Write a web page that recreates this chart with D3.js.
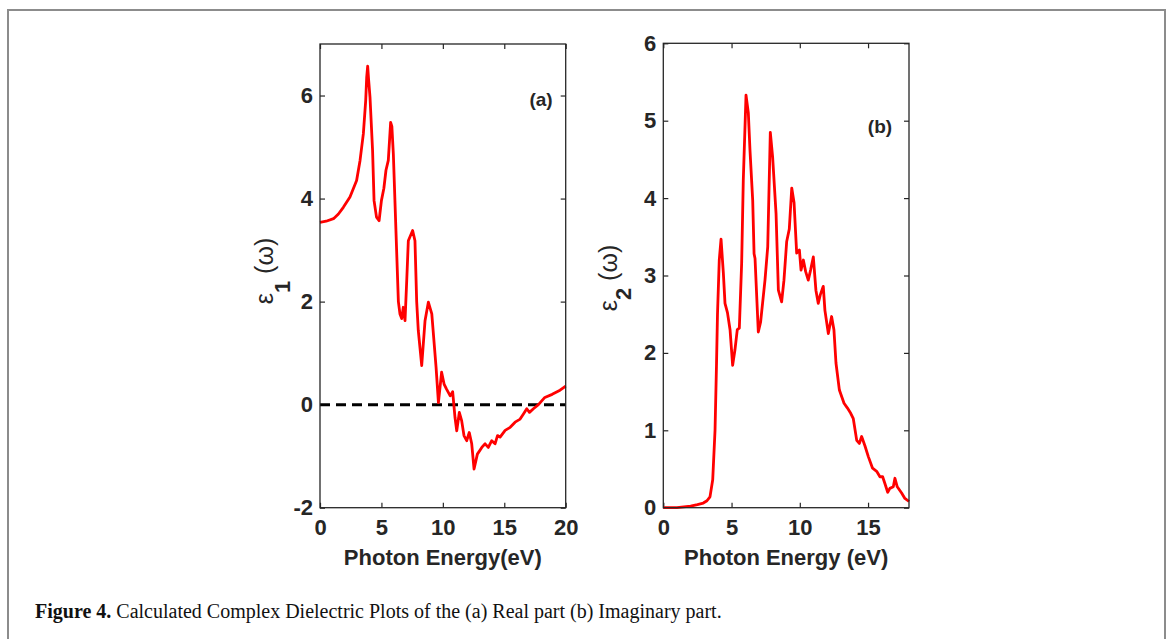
<!DOCTYPE html>
<html>
<head>
<meta charset="utf-8">
<script src="https://cdn.jsdelivr.net/npm/d3@7"></script>
<style>
  body { margin: 0; background: #ffffff; }
  svg { display: block; }
  .tick-label { font-family: "Liberation Sans", Arial, sans-serif; font-weight: bold; font-size: 22px; fill: #262626; }
</style>
</head>
<body>
<svg id="fig" width="1171" height="639"></svg>
<script>
'use strict';

//------------------------------------------------------------
// data
//------------------------------------------------------------
// (a) real part eps1(w)
const energyReal = [0, 0.5, 1.1, 1.5, 1.9, 2.44, 2.98, 3.26, 3.53, 3.72, 3.8, 3.88, 3.96, 4.07, 4.28, 4.4, 4.6, 4.81, 5.0, 5.2, 5.37, 5.56, 5.75, 5.85, 5.97, 6.19, 6.38,
                    6.51, 6.65, 6.78, 6.92, 7.06, 7.19, 7.54, 7.73, 7.87, 8.0, 8.28, 8.55, 8.82, 9.1, 9.45, 9.64, 9.9, 10.1, 10.3, 10.6, 10.8,
                    10.99, 11.13, 11.34, 11.53, 11.72, 11.94, 12.15, 12.35, 12.54, 12.81, 13.17, 13.44, 13.7, 13.98, 14.25, 14.45, 14.66,
                    15.07, 15.48, 15.88, 16.29, 16.56, 16.83, 17.05, 17.37, 17.78, 18.3, 18.9, 19.54, 20.0];
const epsReal = [3.54, 3.56, 3.61, 3.7, 3.83, 4.03, 4.35, 4.74, 5.26, 5.9, 6.35, 6.57, 6.3, 5.97, 4.93, 3.96, 3.64, 3.57, 3.96, 4.2, 4.55, 4.74, 5.48, 5.4, 4.87, 3.32, 2.0,
                 1.76, 1.67, 1.89, 1.63, 2.41, 3.18, 3.38, 3.18, 2.0, 1.44, 0.76, 1.63, 1.99, 1.76, 0.72, 0.04, 0.63, 0.4, 0.3, 0.17, 0.25,
                 -0.25, -0.51, -0.15, -0.31, -0.6, -0.7, -0.54, -0.76, -1.25, -0.96, -0.83, -0.76, -0.83, -0.7, -0.76, -0.6, -0.63,
                 -0.5, -0.44, -0.34, -0.28, -0.18, -0.08, -0.15, -0.08, 0.0, 0.14, 0.2, 0.28, 0.36];

// (b) imaginary part eps2(w)
const energyImag = [0, 1.0, 2.0, 2.5, 2.93, 3.2, 3.42, 3.62, 3.79, 3.9, 3.97, 4.1, 4.23, 4.4, 4.52, 4.7, 4.89, 5.08, 5.25, 5.42, 5.57, 5.74, 5.86,
                    6.06, 6.23, 6.35, 6.55, 6.65, 6.72, 6.96, 7.13, 7.45, 7.65, 7.84, 8.01, 8.26, 8.43, 8.67, 8.84, 9.04, 9.23, 9.41, 9.58, 9.77,
                    9.97, 10.09, 10.26, 10.43, 10.62, 10.79, 10.99, 11.18, 11.35, 11.5, 11.72, 11.84, 12.09, 12.33, 12.5, 12.65, 12.9, 13.24,
                    13.48, 13.73, 13.92, 14.17, 14.36, 14.53, 14.77, 15.02, 15.33, 15.63, 15.87, 16.07, 16.24, 16.44, 16.6, 16.85, 16.97,
                    17.14, 17.46, 17.7, 18.0];
const epsImag = [0, 0, 0.02, 0.04, 0.06, 0.09, 0.14, 0.36, 1.0, 1.87, 2.5, 3.2, 3.47, 3.03, 2.64, 2.52, 2.3, 1.84, 2.04, 2.3, 2.32, 3.16, 4.23,
                 5.33, 5.1, 4.62, 3.97, 3.28, 3.22, 2.27, 2.4, 2.94, 3.37, 4.85, 4.53, 3.8, 2.81, 2.66, 2.94, 3.44, 3.6, 4.13, 3.94, 3.29,
                 3.33, 3.07, 3.2, 3.05, 2.94, 3.07, 3.24, 2.81, 2.64, 2.75, 2.86, 2.55, 2.25, 2.47, 2.3, 1.87, 1.52, 1.35,
                 1.29, 1.22, 1.15, 0.87, 0.83, 0.92, 0.8, 0.66, 0.51, 0.47, 0.4, 0.4, 0.31, 0.2, 0.25, 0.27, 0.38,
                 0.27, 0.19, 0.12, 0.08];

// tick values
const realTicksX = [0, 5, 10, 15, 20];
const realTicksY = [-2, 0, 2, 4, 6];
const imagTicksX = [0, 5, 10, 15];
const imagTicksY = [0, 1, 2, 3, 4, 5, 6];

// texts
const xLabelReal = "Photon Energy(eV)";
const xLabelImag = "Photon Energy (eV)";
const captionBold = "Figure 4.";
const captionText = " Calculated Complex Dielectric Plots of the (a) Real part (b) Imaginary part.";

//------------------------------------------------------------
// draw one panel
//------------------------------------------------------------
function drawPanel(svg, opt) {
    const x = d3.scaleLinear().domain(opt.xDomain).range([opt.left, opt.right]);
    const y = d3.scaleLinear().domain(opt.yDomain).range([opt.bottom, opt.top]);
    const g = svg.append("g");
    const fmt = (d) => String(d); // plain hyphen minus like the original

    // inward ticks on all four sides, labels only left / bottom
    const axes = [
        [d3.axisBottom(x).tickValues(opt.xTicks).tickFormat(fmt).tickPadding(12), `translate(0,${opt.bottom})`, true],
        [d3.axisTop(x).tickValues(opt.xTicks).tickFormat(""), `translate(0,${opt.top})`, false],
        [d3.axisLeft(y).tickValues(opt.yTicks).tickFormat(fmt).tickPadding(7), `translate(${opt.left},0)`, true],
        [d3.axisRight(y).tickValues(opt.yTicks).tickFormat(""), `translate(${opt.right},0)`, false]
    ];
    axes.forEach(([ax, tr, showLabels]) => {
        const a = g.append("g").attr("transform", tr)
            .call(ax.tickSizeInner(-5).tickSizeOuter(0));
        a.select(".domain").remove();
        a.selectAll("line").attr("stroke", "#262626").attr("stroke-width", 1.2);
        a.selectAll("text").attr("class", "tick-label").attr("fill", null);
        if (!showLabels) a.selectAll("text").remove();
    });

    // zero line
    if (opt.zeroLine) {
        g.append("line")
            .attr("x1", x(opt.xDomain[0])).attr("x2", x(opt.xDomain[1]))
            .attr("y1", y(0)).attr("y2", y(0))
            .attr("stroke", "#000000").attr("stroke-width", 3)
            .attr("stroke-dasharray", "10,6");
    }

    // data curve
    const pts = opt.xs.map((d, i) => [d, opt.ys[i]]);
    g.append("path")
        .datum(pts)
        .attr("fill", "none")
        .attr("stroke", "#ff0000")
        .attr("stroke-width", 2.8)
        .attr("stroke-linejoin", "round")
        .attr("d", d3.line().x(d => x(d[0])).y(d => y(d[1])));

    // frame
    g.append("rect")
        .attr("x", opt.left).attr("y", opt.top)
        .attr("width", opt.right - opt.left).attr("height", opt.bottom - opt.top)
        .attr("fill", "none").attr("stroke", "#262626").attr("stroke-width", 1.3);

    // x label
    g.append("text")
        .attr("class", "tick-label")
        .attr("x", (opt.left + opt.right) / 2).attr("y", 565)
        .attr("text-anchor", "middle")
        .text(opt.xLabel);

    // y label: eps_n (omega)
    const yl = g.append("text")
        .attr("transform", `translate(${opt.yLabelX},${opt.yLabelY}) rotate(-90)`)
        .attr("text-anchor", "middle")
        .attr("font-family", "\"Liberation Sans\", Arial, sans-serif")
        .attr("font-size", 25)
        .attr("fill", "#262626");
    yl.append("tspan").text("ε");
    yl.append("tspan").attr("dy", opt.subShift).attr("font-weight", "bold").attr("font-size", 22).text(opt.sub);
    yl.append("tspan").attr("dy", -opt.subShift).text(" (ω)");

    // panel tag
    g.append("text")
        .attr("class", "tick-label")
        .style("font-size", "19px")
        .attr("x", opt.tagX).attr("y", opt.tagY)
        .attr("text-anchor", "middle")
        .text(opt.tag);
}

//------------------------------------------------------------
// main
//------------------------------------------------------------
const svg = d3.select("#fig");

// page frame
svg.append("path")
    .attr("d", "M8,639 V10 H1165 V639")
    .attr("fill", "none").attr("stroke", "#8c8c8c").attr("stroke-width", 2);

drawPanel(svg, {
    left: 320, right: 565.7, top: 44, bottom: 507.7,
    xDomain: [0, 20], yDomain: [-2, 7],
    xTicks: realTicksX, yTicks: realTicksY,
    xs: energyReal, ys: epsReal,
    zeroLine: true,
    xLabel: xLabelReal,
    yLabelX: 273, yLabelY: 271, sub: "1", subShift: 17,
    tag: "(a)", tagX: 541, tagY: 106
});

drawPanel(svg, {
    left: 663.3, right: 909, top: 43.3, bottom: 507.7,
    xDomain: [0, 18], yDomain: [0, 6],
    xTicks: imagTicksX, yTicks: imagTicksY,
    xs: energyImag, ys: epsImag,
    zeroLine: false,
    xLabel: xLabelImag,
    yLabelX: 617, yLabelY: 278, sub: "2", subShift: 14,
    tag: "(b)", tagX: 880, tagY: 133
});

// caption
const cap = svg.append("text")
    .attr("x", 35).attr("y", 618)
    .attr("font-family", "\"Liberation Serif\", \"Times New Roman\", serif")
    .attr("font-size", 20)
    .attr("fill", "#111111");
cap.append("tspan").attr("font-weight", "bold").text(captionBold);
cap.append("tspan").text(captionText);
</script>
</body>
</html>
